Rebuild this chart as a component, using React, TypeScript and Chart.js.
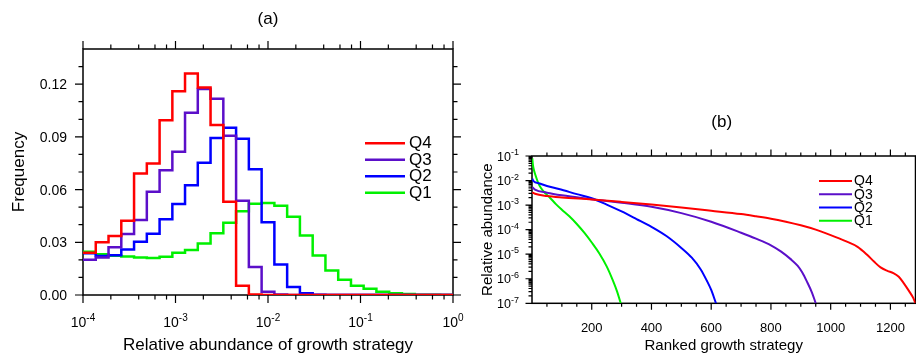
import React, { useEffect, useRef } from "react";
import { Chart, registerables } from "chart.js";

Chart.register(...registerables);

const FONT = '"Liberation Sans", Arial, Helvetica, sans-serif';

const seriesNames = ["Q4", "Q3", "Q2", "Q1"];
const seriesColors = ["#ff0000", "#5b0fc9", "#0000ff", "#00f000"];

// ---------- panel (a): histogram of relative abundance ----------
const binEdgeExponents = [
  -4.0, -3.862, -3.724, -3.586, -3.448, -3.31, -3.172, -3.034, -2.897, -2.759,
  -2.621, -2.483, -2.345, -2.207, -2.069, -1.931, -1.793, -1.655, -1.517, -1.379,
  -1.241, -1.103, -0.966, -0.828, -0.69, -0.552, -0.414, -0.276, -0.138, 0.0,
];
const freqQ4 = [
  0.024, 0.03, 0.0336, 0.0423, 0.0691, 0.0748, 0.0995, 0.116, 0.1261, 0.1181,
  0.0968, 0.053, 0.0052, 0.0003, 0, 0, 0, 0, 0, 0, 0, 0, 0, 0, 0, 0, 0, 0, 0,
];
const freqQ3 = [
  0.02, 0.0213, 0.0272, 0.0347, 0.0427, 0.0587, 0.071, 0.0815, 0.1037, 0.1173,
  0.1117, 0.0906, 0.0537, 0.016, 0.0018, 0.0003, 0, 0, 0, 0, 0, 0, 0, 0, 0, 0, 0, 0, 0,
];
const freqQ2 = [
  0.0237, 0.0222, 0.0226, 0.0259, 0.0303, 0.0348, 0.0431, 0.0518, 0.0624, 0.0753,
  0.0893, 0.0952, 0.0889, 0.0716, 0.0414, 0.0173, 0.0045, 0.001, 0.0002, 0, 0, 0, 0, 0, 0, 0, 0, 0, 0,
];
const freqQ1 = [
  0.0246, 0.0232, 0.0223, 0.0219, 0.0214, 0.021, 0.0218, 0.024, 0.0256, 0.0293,
  0.0351, 0.0411, 0.0476, 0.0519, 0.0524, 0.0508, 0.0446, 0.0338, 0.0225, 0.014,
  0.0087, 0.0052, 0.0035, 0.0018, 0.001, 0.0005, 0.0002, 0.0001, 0,
];
const freqSeries = [freqQ4, freqQ3, freqQ2, freqQ1];

const aXTickExponents = [-4, -3, -2, -1, 0];
const aXMinorFactors = [2, 4, 6, 8];
const aYTicks = [0, 0.03, 0.06, 0.09, 0.12];
const aYMinorTicks = [0.01, 0.02, 0.04, 0.05, 0.07, 0.08, 0.1, 0.11, 0.13];

// ---------- panel (b): rank-abundance curves ----------
const rankQ4 = [1, 10, 50, 100, 200, 300, 400, 500, 600, 700, 750, 800, 850, 900, 950, 1000, 1050, 1090, 1120, 1145, 1167, 1190, 1210, 1228, 1245, 1262, 1276, 1284];
const abundQ4 = [3.3e-3, 2.9e-3, 2.35e-3, 2.05e-3, 1.7e-3, 1.35e-3, 1.05e-3, 8.0e-4, 5.9e-4, 4.3e-4, 3.5e-4, 2.8e-4, 2.1e-4, 1.5e-4, 1.0e-4, 6.0e-5, 3.4e-5, 2.0e-5, 1.0e-5, 5.0e-6, 2.9e-6, 2.1e-6, 1.7e-6, 1.2e-6, 6.5e-7, 3.2e-7, 1.7e-7, 1.0e-7];
const rankQ3 = [1, 10, 50, 100, 200, 300, 400, 500, 600, 700, 750, 800, 833, 866, 889, 905, 922, 937, 950];
const abundQ3 = [5.4e-3, 4.3e-3, 3.2e-3, 2.5e-3, 1.75e-3, 1.25e-3, 8.5e-4, 4.7e-4, 2.1e-4, 7.5e-5, 4.3e-5, 2.3e-5, 1.3e-5, 6.3e-6, 3.4e-6, 1.8e-6, 7.0e-7, 2.8e-7, 1.0e-7];
const rankQ2 = [1, 5, 25, 50, 90, 150, 200, 250, 300, 350, 400, 450, 500, 535, 565, 585, 600, 616];
const abundQ2 = [1.2e-2, 9.5e-3, 7.6e-3, 6.0e-3, 4.5e-3, 2.8e-3, 1.9e-3, 1.05e-3, 5.5e-4, 2.7e-4, 1.3e-4, 5.5e-5, 1.8e-5, 7.2e-6, 2.4e-6, 8.5e-7, 3.5e-7, 1.0e-7];
const rankQ1 = [1, 3, 6, 12, 20, 30, 45, 60, 80, 100, 125, 150, 175, 200, 225, 250, 270, 285, 297];
const abundQ1 = [8.0e-2, 4.5e-2, 2.8e-2, 1.6e-2, 8.5e-3, 5.0e-3, 3.0e-3, 2.0e-3, 1.1e-3, 6.5e-4, 3.5e-4, 1.7e-4, 7.5e-5, 3.0e-5, 1.1e-5, 3.2e-6, 9.0e-7, 3.0e-7, 1.0e-7];
const rankSeries = [rankQ4, rankQ3, rankQ2, rankQ1];
const abundSeries = [abundQ4, abundQ3, abundQ2, abundQ1];

const bXTicks = [200, 400, 600, 800, 1000, 1200];
const bXMinorTicks = [50, 100, 150, 250, 300, 350, 450, 500, 550, 650, 700, 750, 850, 900, 950, 1050, 1100, 1150, 1250];
const bYTickExponents = [-7, -6, -5, -4, -3, -2, -1];
const bYMinorFactors = [2, 3, 4, 5, 6, 7, 8, 9];

// ---------- drawing helpers ----------
function strokeFrameAndTicks(
  ctx: CanvasRenderingContext2D,
  ca: any,
  xMaj: number[],
  xMin: number[],
  yMaj: number[],
  yMin: number[],
  majLen: number,
  minLen: number
) {
  ctx.save();
  ctx.strokeStyle = "#000";
  ctx.lineWidth = 1.2;
  ctx.beginPath();
  const addX = (px: number, len: number) => {
    ctx.moveTo(px, ca.bottom);
    ctx.lineTo(px, ca.bottom + len);
    ctx.moveTo(px, ca.top);
    ctx.lineTo(px, ca.top - len);
  };
  const addY = (py: number, len: number) => {
    ctx.moveTo(ca.left, py);
    ctx.lineTo(ca.left - len, py);
    ctx.moveTo(ca.right, py);
    ctx.lineTo(ca.right + len, py);
  };
  xMaj.forEach((p) => addX(p, majLen));
  xMin.forEach((p) => addX(p, minLen));
  yMaj.forEach((p) => addY(p, majLen));
  yMin.forEach((p) => addY(p, minLen));
  ctx.stroke();
  ctx.lineWidth = 1.5;
  ctx.strokeRect(ca.left, ca.top, ca.right - ca.left, ca.bottom - ca.top);
  ctx.restore();
}

function drawPow10(
  ctx: CanvasRenderingContext2D,
  exp: number,
  x: number,
  baseline: number,
  size: number,
  supSize: number,
  align: "center" | "right"
) {
  const base = "10";
  const sup = String(exp);
  ctx.font = `${size}px ${FONT}`;
  const w1 = ctx.measureText(base).width;
  ctx.font = `${supSize}px ${FONT}`;
  const w2 = ctx.measureText(sup).width;
  const total = w1 + w2;
  const sx = align === "center" ? x - total / 2 : x - total;
  ctx.textAlign = "left";
  ctx.textBaseline = "alphabetic";
  ctx.font = `${size}px ${FONT}`;
  ctx.fillText(base, sx, baseline);
  ctx.font = `${supSize}px ${FONT}`;
  ctx.fillText(sup, sx + w1, baseline - size * 0.42);
}

function drawLegend(
  chart: any,
  x1: number,
  x2: number,
  tx: number,
  y0: number,
  dy: number,
  fontSize: number,
  lw: number
) {
  const ctx: CanvasRenderingContext2D = chart.ctx;
  ctx.save();
  chart.data.datasets.forEach((ds: any, i: number) => {
    const y = y0 + i * dy;
    ctx.strokeStyle = ds.borderColor;
    ctx.lineWidth = lw;
    ctx.beginPath();
    ctx.moveTo(x1, y);
    ctx.lineTo(x2, y);
    ctx.stroke();
    ctx.fillStyle = "#000";
    ctx.font = `${fontSize}px ${FONT}`;
    ctx.textAlign = "left";
    ctx.textBaseline = "middle";
    ctx.fillText(ds.label, tx, y + 0.5);
  });
  ctx.restore();
}

const pluginA = {
  id: "axesA",
  beforeDatasetsDraw(chart: any) {
    const { ctx, chartArea: ca, scales } = chart;
    const xs = scales.x;
    const ys = scales.y;
    const xMaj = aXTickExponents.map((e) => xs.getPixelForValue(Math.pow(10, e)));
    const xMin: number[] = [];
    aXTickExponents.slice(0, -1).forEach((e) =>
      aXMinorFactors.forEach((f) => xMin.push(xs.getPixelForValue(f * Math.pow(10, e))))
    );
    const yMaj = aYTicks.map((v) => ys.getPixelForValue(v));
    const yMin = aYMinorTicks.map((v) => ys.getPixelForValue(v));
    strokeFrameAndTicks(ctx, ca, xMaj, xMin, yMaj, yMin, 8, 4.5);

    ctx.save();
    ctx.fillStyle = "#000";
    ctx.font = `14px ${FONT}`;
    ctx.textAlign = "right";
    ctx.textBaseline = "alphabetic";
    aYTicks.forEach((v, i) => ctx.fillText(v.toFixed(2), ca.left - 16, yMaj[i] + 5));
    aXTickExponents.forEach((e, i) => drawPow10(ctx, e, xMaj[i], 327, 14, 10, "center"));
    const cx = (ca.left + ca.right) / 2;
    ctx.font = `17px ${FONT}`;
    ctx.textAlign = "center";
    ctx.textBaseline = "alphabetic";
    ctx.fillText("(a)", cx, 24);
    ctx.fillText("Relative abundance of growth strategy", cx, 350);
    ctx.translate(24, (ca.top + ca.bottom) / 2);
    ctx.rotate(-Math.PI / 2);
    ctx.fillText("Frequency", 0, 0);
    ctx.restore();
  },
  afterDatasetsDraw(chart: any) {
    drawLegend(chart, 365, 405, 409, 143.3, 16.5, 17, 2.5);
  },
};

const pluginB = {
  id: "axesB",
  beforeDatasetsDraw(chart: any) {
    const { ctx, chartArea: ca, scales } = chart;
    const xs = scales.x;
    const ys = scales.y;
    const xMaj = bXTicks.map((v) => xs.getPixelForValue(v));
    const xMin = bXMinorTicks.map((v) => xs.getPixelForValue(v));
    const yMaj = bYTickExponents.map((e) => ys.getPixelForValue(Math.pow(10, e)));
    const yMin: number[] = [];
    bYTickExponents.slice(0, -1).forEach((e) =>
      bYMinorFactors.forEach((f) => yMin.push(ys.getPixelForValue(f * Math.pow(10, e))))
    );
    strokeFrameAndTicks(ctx, ca, xMaj, xMin, yMaj, yMin, 6.5, 3.5);

    ctx.save();
    ctx.fillStyle = "#000";
    ctx.font = `13px ${FONT}`;
    ctx.textAlign = "center";
    ctx.textBaseline = "alphabetic";
    bXTicks.forEach((v, i) => ctx.fillText(String(v), xMaj[i], 331.5));
    bYTickExponents.forEach((e, i) => drawPow10(ctx, e, ca.left - 13, yMaj[i] + 4.5, 12.5, 9, "right"));
    const cx = (ca.left + ca.right) / 2;
    ctx.font = `17px ${FONT}`;
    ctx.textAlign = "center";
    ctx.textBaseline = "alphabetic";
    ctx.fillText("(b)", cx - 2, 127);
    ctx.font = `15px ${FONT}`;
    ctx.fillText("Ranked growth strategy", cx, 350);
    ctx.translate(22, (ca.top + ca.bottom) / 2);
    ctx.rotate(-Math.PI / 2);
    ctx.fillText("Relative abundance", 0, 0);
    ctx.restore();
  },
  afterDatasetsDraw(chart: any) {
    drawLegend(chart, 349, 382, 384, 181, 13.25, 14, 2);
  },
};

function makeConfigA(): any {
  return {
    type: "line",
    data: {
      datasets: seriesNames.map((name, s) => ({
        label: name,
        data: binEdgeExponents.map((e, i) => ({
          x: Math.pow(10, e),
          y: freqSeries[s][Math.min(i, freqSeries[s].length - 1)],
        })),
        borderColor: seriesColors[s],
        backgroundColor: seriesColors[s],
        borderWidth: 2.5,
        pointRadius: 0,
        stepped: "before",
        fill: false,
      })),
    },
    options: {
      animation: false,
      responsive: false,
      devicePixelRatio: 1,
      events: [],
      layout: { padding: { left: 83, right: 17, top: 49, bottom: 60 } },
      scales: {
        x: { type: "logarithmic", min: 1e-4, max: 1, display: false },
        y: { type: "linear", min: 0, max: 0.14, display: false },
      },
      plugins: { legend: { display: false }, tooltip: { enabled: false }, title: { display: false } },
    },
    plugins: [pluginA],
  };
}

function makeConfigB(): any {
  return {
    type: "line",
    data: {
      datasets: seriesNames.map((name, s) => ({
        label: name,
        data: rankSeries[s].map((r, i) => ({ x: r, y: abundSeries[s][i] })),
        borderColor: seriesColors[s],
        backgroundColor: seriesColors[s],
        borderWidth: 2,
        pointRadius: 0,
        cubicInterpolationMode: "monotone",
        fill: false,
      })),
    },
    options: {
      animation: false,
      responsive: false,
      devicePixelRatio: 1,
      events: [],
      layout: { padding: { left: 62, right: 0.5, top: 156, bottom: 51.7 } },
      scales: {
        x: { type: "linear", min: 0, max: 1284, display: false },
        y: { type: "logarithmic", min: 1e-7, max: 1e-1, display: false },
      },
      plugins: { legend: { display: false }, tooltip: { enabled: false }, title: { display: false } },
    },
    plugins: [pluginB],
  };
}

export default function App() {
  const refA = useRef<HTMLCanvasElement>(null);
  const refB = useRef<HTMLCanvasElement>(null);
  useEffect(() => {
    const a = new Chart(refA.current as HTMLCanvasElement, makeConfigA());
    const b = new Chart(refB.current as HTMLCanvasElement, makeConfigB());
    return () => {
      a.destroy();
      b.destroy();
    };
  }, []);
  return (
    <div style={{ position: "absolute", left: 0, top: 0, width: 916, height: 355, background: "#fff", overflow: "hidden" }}>
      <canvas ref={refA} width={470} height={355} style={{ position: "absolute", left: 0, top: 0 }} />
      <canvas ref={refB} width={446} height={355} style={{ position: "absolute", left: 470, top: 0 }} />
    </div>
  );
}
